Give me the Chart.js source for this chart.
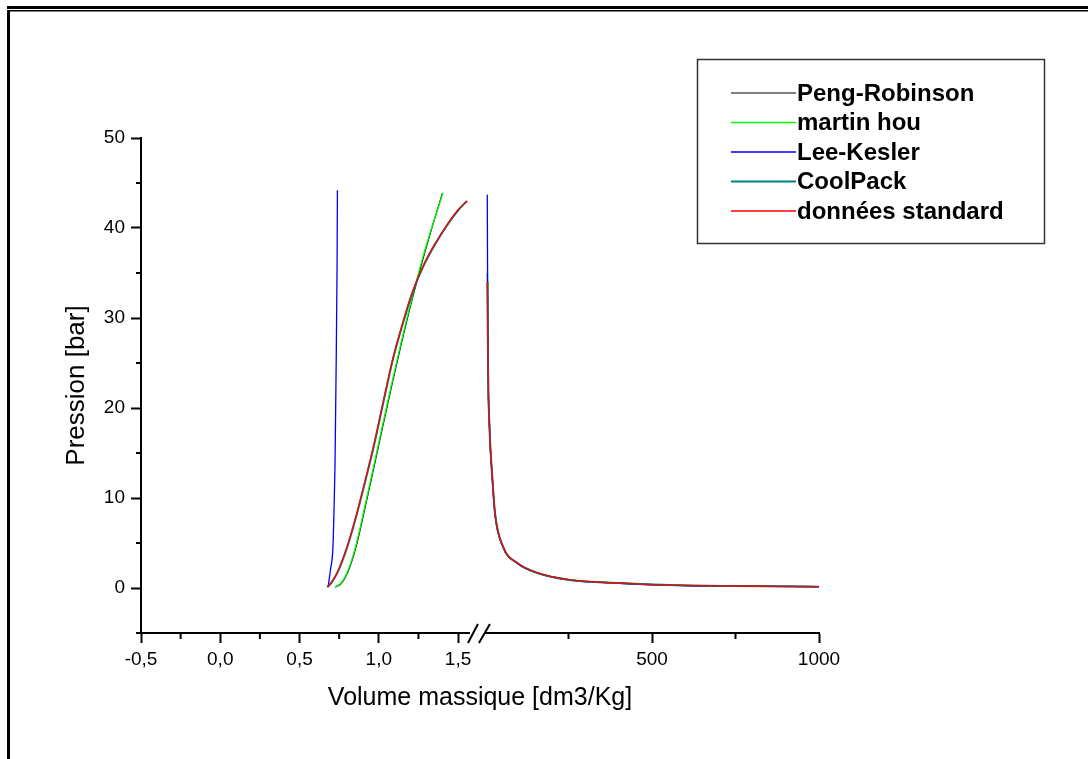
<!DOCTYPE html>
<html>
<head>
<meta charset="utf-8">
<script src="https://cdn.jsdelivr.net/npm/chart.js@4.4.0/dist/chart.umd.min.js"></script>
<style>
  body { margin: 0; background: #fff; }
  #wrap { width: 1088px; height: 759px; }
</style>
</head>
<body>
<div id="wrap"><canvas id="mycanvas" width="1088" height="759"></canvas></div>
<script>
var models = ['Peng-Robinson', 'martin hou', 'Lee-Kesler', 'CoolPack', 'données standard'];
var colors = ['#000000', '#00ff00', '#0000ff', '#008080', '#ff0000'];
var widths = [1.2, 1.3, 1.3, 2, 1.3];

// liquid side, left part of the broken axis (dm3/kg, bar)
var prLiqV = [0.725, 0.763, 0.803, 0.857, 0.913, 0.968, 1.023, 1.083, 1.143, 1.208, 1.298, 1.402];
var prLiqP = [0.1, 0.5, 1.7, 4.6, 8.9, 13.3, 17.8, 22.6, 27.2, 31.9, 37.8, 43.9];
var mhLiqV = [0.722, 0.760, 0.800, 0.854, 0.910, 0.965, 1.020, 1.080, 1.140, 1.205, 1.295, 1.405];
var mhLiqP = [0.1, 0.5, 1.7, 4.6, 8.9, 13.3, 17.8, 22.6, 27.2, 31.9, 37.8, 43.9];
var lkLiqV = [0.680, 0.695, 0.711, 0.718, 0.724, 0.730, 0.737, 0.739];
var lkLiqP = [0.1, 2.0, 4.6, 9.0, 13.9, 23.1, 36.1, 44.2];
var cpLiqV = [0.676, 0.702, 0.739, 0.802, 0.863, 0.928, 0.968, 0.987, 1.042, 1.092, 1.152, 1.212, 1.282, 1.362, 1.442, 1.502, 1.556];
var cpLiqP = [0.1, 0.6, 1.7, 4.6, 8.3, 12.8, 15.7, 17.2, 21.7, 25.6, 29.4, 32.8, 35.8, 38.4, 40.6, 42.0, 43.0];
var stLiqV = [0.674, 0.700, 0.737, 0.800, 0.861, 0.926, 0.966, 0.985, 1.040, 1.090, 1.150, 1.210, 1.280, 1.360, 1.440, 1.500, 1.557];
var stLiqP = [0.1, 0.6, 1.7, 4.6, 8.3, 12.8, 15.7, 17.2, 21.7, 25.6, 29.4, 32.8, 35.8, 38.4, 40.6, 42.0, 43.0];

// vapour side, right part of the broken axis
var prVapV = [7.2, 7.8, 9, 10.5, 13, 15, 21, 30, 53, 95, 155, 254, 404, 554, 750, 1000];
var prVapP = [35, 30, 25, 21, 18.5, 16.4, 12.8, 8.3, 4.6, 2.8, 1.7, 0.9, 0.55, 0.33, 0.22, 0.15];
var mhVapV = [7.2, 7.8, 9, 10.5, 13, 15, 21, 30, 53, 95, 155, 254, 404, 554, 750, 1000];
var mhVapP = [35, 30, 25, 21, 18.5, 16.4, 12.8, 8.3, 4.6, 2.8, 1.7, 0.9, 0.55, 0.33, 0.22, 0.15];
var lkVapV = [6.8, 7.2, 7.8, 8.5, 10, 12.5, 15, 21, 30, 55, 98, 160, 260, 410, 560, 750, 1000];
var lkVapP = [43.7, 40, 34, 28, 22, 18.5, 16.2, 12.5, 8.1, 4.5, 2.7, 1.6, 0.85, 0.5, 0.3, 0.2, 0.13];
var cpVapV = [7.5, 8, 9, 10.5, 13, 15, 21, 30, 54, 96, 156, 254, 404, 554, 750, 1000];
var cpVapP = [34, 30, 25, 21, 18.5, 16.4, 12.8, 8.3, 4.6, 2.8, 1.7, 0.9, 0.55, 0.33, 0.22, 0.15];
var stVapV = [7.5, 8, 9, 10.5, 13, 15, 21, 30, 54, 96, 156, 254, 404, 554, 750, 1000];
var stVapP = [34, 30, 25, 21, 18.5, 16.4, 12.8, 8.3, 4.6, 2.8, 1.7, 0.9, 0.55, 0.33, 0.22, 0.15];

// ticks
var yTicks = [0, 10, 20, 30, 40, 50];
var yMinor = [-5, 5, 15, 25, 35, 45];
var xTicksLeft = [-0.5, 0, 0.5, 1, 1.5];
var xMinorLeft = [-0.25, 0.25, 0.75, 1.25];
var xTicksRight = [500, 1000];
var xMinorRight = [250, 750];
var leftAxisEnd = 1.575;

Chart.defaults.font.family = '"Liberation Sans", Arial, sans-serif';
Chart.defaults.color = '#000';

function branch(i, vs, ps, axis) {
    return {
        label: models[i],
        data: vs.map(function(v, k){ return {x: v, y: ps[k]}; }),
        xAxisID: axis,
        borderColor: colors[i],
        backgroundColor: colors[i],
        borderWidth: widths[i],
        pointRadius: 0,
        fill: false,
        cubicInterpolationMode: 'monotone',
        order: models.length - i
    };
}

var datasets = [
    branch(0, prLiqV, prLiqP, 'x'), branch(0, prVapV, prVapP, 'x2'),
    branch(1, mhLiqV, mhLiqP, 'x'), branch(1, mhVapV, mhVapP, 'x2'),
    branch(2, lkLiqV, lkLiqP, 'x'), branch(2, lkVapV, lkVapP, 'x2'),
    branch(3, cpLiqV, cpLiqP, 'x'), branch(3, cpVapV, cpVapP, 'x2'),
    branch(4, stLiqV, stLiqP, 'x'), branch(4, stVapV, stVapP, 'x2')
];

var tickGrid = { drawOnChartArea: false, tickLength: 10, tickWidth: 2, tickColor: '#000' };

var decor = {
    id: 'decor',
    beforeDraw: function(chart) {
        var ctx = chart.ctx;
        ctx.save();
        ctx.fillStyle = '#fff';
        ctx.fillRect(0, 0, chart.width, chart.height);
        ctx.fillStyle = '#000';
        ctx.fillRect(7, 6, chart.width - 7, 3);
        ctx.fillRect(7, 10, chart.width - 7, 1.5);
        ctx.fillRect(7, 10, 3, chart.height - 10);
        ctx.restore();
    },
    afterDraw: function(chart) {
        var ctx = chart.ctx;
        var ys = chart.scales.y, xl = chart.scales.x, xr = chart.scales.x2;
        var base = chart.chartArea.bottom;
        ctx.save();
        ctx.strokeStyle = '#000';
        ctx.lineWidth = 2;
        ctx.beginPath();
        yMinor.forEach(function(v){
            var p = ys.getPixelForValue(v);
            ctx.moveTo(ys.right - 5, p); ctx.lineTo(ys.right, p);
        });
        xMinorLeft.forEach(function(v){
            var p = xl.getPixelForValue(v);
            ctx.moveTo(p, base); ctx.lineTo(p, base + 6);
        });
        xMinorRight.forEach(function(v){
            var p = xr.getPixelForValue(v);
            ctx.moveTo(p, base); ctx.lineTo(p, base + 6);
        });
        // left part of the axis line and the break marks
        var e = xl.getPixelForValue(leftAxisEnd);
        ctx.moveTo(xl.left - 5, base); ctx.lineTo(e, base);
        ctx.moveTo(e - 2, base + 10); ctx.lineTo(e + 8, base - 9);
        ctx.moveTo(e + 9, base + 10); ctx.lineTo(e + 20, base - 9);
        ctx.stroke();

        // legend box
        ctx.lineWidth = 1.5;
        ctx.strokeStyle = '#333';
        ctx.strokeRect(697.5, 59.5, 347, 184);
        ctx.font = 'bold 24px "Liberation Sans", Arial, sans-serif';
        ctx.textBaseline = 'middle';
        ctx.textAlign = 'left';
        ctx.fillStyle = '#000';
        models.forEach(function(m, i){
            var y = 93 + i * 29.5;
            ctx.beginPath();
            ctx.strokeStyle = colors[i];
            ctx.lineWidth = widths[i];
            ctx.moveTo(731, y); ctx.lineTo(796, y);
            ctx.stroke();
            ctx.fillText(m, 797, y + 1);
        });
        ctx.restore();
    }
};

var ctx = document.getElementById('mycanvas');
var chart = new Chart(ctx, {
    type: 'line',
    data: { datasets: datasets },
    plugins: [decor],
    options: {
        responsive: false,
        animation: false,
        devicePixelRatio: 1,
        layout: { padding: { left: 0, top: 138, right: 269, bottom: 40 } },
        plugins: {
            legend: { display: false },
            tooltip: { enabled: false },
            title: {
                display: true,
                text: 'Volume massique [dm3/Kg]',
                position: 'bottom',
                fullSize: false,
                font: { size: 25, weight: 'normal' },
                color: '#000',
                padding: { top: 0, bottom: 6 }
            }
        },
        scales: {
            y: {
                type: 'linear', position: 'left', min: -5, max: 50,
                afterFit: function(s){ s.width = 141; },
                afterBuildTicks: function(s){ s.ticks = yTicks.map(function(v){ return {value: v}; }); },
                grid: tickGrid,
                border: { display: true, width: 2, color: '#000' },
                ticks: { font: { size: 19 }, color: '#000', padding: 6 },
                title: { display: true, text: 'Pression [bar]', font: { size: 26 }, color: '#000', padding: { top: 61, bottom: 0 } }
            },
            x: {
                type: 'linear', position: 'bottom', stack: 'vol', stackWeight: 344,
                min: -0.5, max: 1.67,
                afterFit: function(s){ s.height = 50; },
                afterBuildTicks: function(s){ s.ticks = xTicksLeft.map(function(v){ return {value: v}; }); },
                grid: tickGrid,
                border: { display: false },
                ticks: {
                    font: { size: 19 }, color: '#000', padding: 5, autoSkip: false, maxRotation: 0,
                    callback: function(v){ return v.toFixed(1).replace('.', ','); }
                }
            },
            x2: {
                type: 'linear', position: 'bottom', stack: 'vol', stackWeight: 334,
                min: 0, max: 1000,
                afterFit: function(s){ s.height = 50; },
                afterBuildTicks: function(s){ s.ticks = xTicksRight.map(function(v){ return {value: v}; }); },
                grid: tickGrid,
                border: { display: true, width: 2, color: '#000' },
                ticks: {
                    font: { size: 19 }, color: '#000', padding: 5, autoSkip: false, maxRotation: 0,
                    callback: function(v){ return String(v); }
                }
            }
        }
    }
});
</script>
</body>
</html>
